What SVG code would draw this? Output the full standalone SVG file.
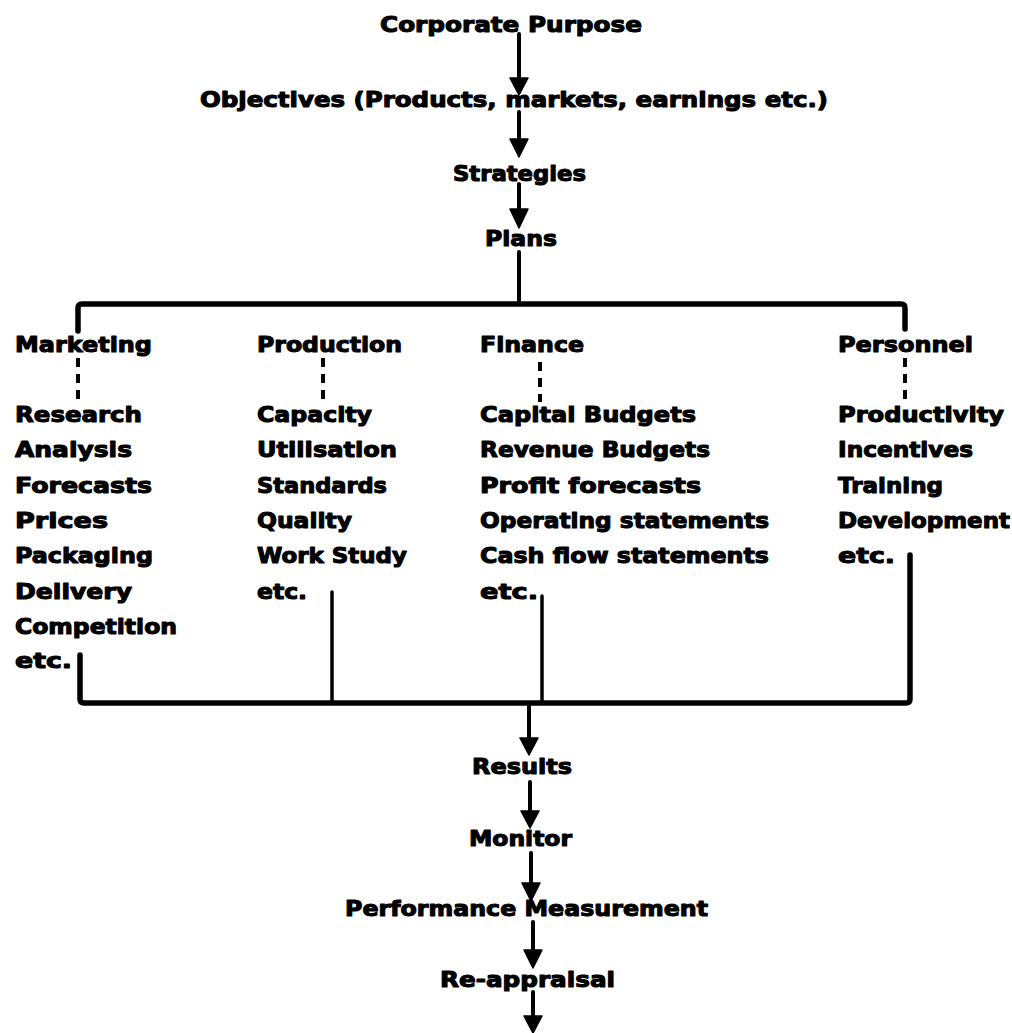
<svg xmlns="http://www.w3.org/2000/svg" width="1012" height="1033" viewBox="0 0 1012 1033">
<style>
  text { font-family: "DejaVu Sans", "Liberation Sans", sans-serif; font-weight: bold; font-size: 22px; fill: #000; stroke: #000; stroke-width: 1.1px; stroke-linejoin: round; }
  .ln { stroke: #000; fill: none; stroke-linecap: round; stroke-linejoin: round; }
  .arrow { stroke-width: 4; }
  .bar { stroke-width: 5.5; }
  .thin { stroke-width: 3.5; }
  .dash { stroke-width: 4; stroke-dasharray: 9 7; stroke-linecap: butt; }
  .head { fill: #000; stroke: #000; stroke-width: 1.5; stroke-linejoin: round; }
</style>
<rect width="1012" height="1033" fill="#fff"/>

<g id="connectors">
  <line class="ln arrow" x1="519" y1="34" x2="519" y2="80"/>
  <polygon class="head" points="510,78 528,78 519,95"/>
  <line class="ln arrow" x1="519" y1="112" x2="519" y2="141"/>
  <polygon class="head" points="510,139 528,139 519,157"/>
  <line class="ln arrow" x1="519" y1="184" x2="519" y2="211"/>
  <polygon class="head" points="510,209 528,209 519,228"/>
  <line class="ln arrow" x1="519" y1="252" x2="519" y2="304"/>
  <path class="ln bar" d="M78,331 V308 Q78,304 82,304 H901 Q905,304 905,308 V329"/>
  <line class="ln dash" x1="78" y1="358" x2="78" y2="402"/>
  <line class="ln dash" x1="323" y1="358" x2="323" y2="402"/>
  <line class="ln dash" x1="540" y1="362" x2="540" y2="402" stroke-dasharray="24 5"/>
  <line class="ln dash" x1="905" y1="358" x2="905" y2="402"/>
  <path class="ln bar" d="M80,655 V699 Q80,703 84,703 H906 Q910,703 910,699 V555"/>
  <line class="ln thin" x1="332" y1="592" x2="332" y2="703"/>
  <line class="ln thin" x1="542" y1="596" x2="542" y2="703"/>
  <line class="ln arrow" x1="529" y1="703" x2="529" y2="740"/>
  <polygon class="head" points="520,738 538,738 529,755"/>
  <line class="ln arrow" x1="530" y1="782" x2="530" y2="813"/>
  <polygon class="head" points="521,811 539,811 530,828"/>
  <line class="ln arrow" x1="531" y1="853" x2="531" y2="885"/>
  <polygon class="head" points="522,883 540,883 531,901"/>
  <line class="ln arrow" x1="533" y1="922" x2="533" y2="952"/>
  <polygon class="head" points="524,950 542,950 533,968"/>
  <line class="ln arrow" x1="533" y1="992" x2="533" y2="1018"/>
  <polygon class="head" points="524,1016 542,1016 533,1033"/>
</g>

<g id="node-corporate-purpose"><text x="380" y="32" textLength="262" lengthAdjust="spacingAndGlyphs">Corporate Purpose</text></g>
<g id="node-objectives"><text x="200" y="107" textLength="628" lengthAdjust="spacingAndGlyphs">Objectives (Products, markets, earnings etc.)</text></g>
<g id="node-strategies"><text x="453" y="181" textLength="133" lengthAdjust="spacingAndGlyphs">Strategies</text></g>
<g id="node-plans"><text x="485" y="246" textLength="72" lengthAdjust="spacingAndGlyphs">Plans</text></g>

<g id="node-marketing"><text x="15" y="352" textLength="137" lengthAdjust="spacingAndGlyphs">Marketing</text></g>
<g id="node-production"><text x="257" y="352" textLength="145" lengthAdjust="spacingAndGlyphs">Production</text></g>
<g id="node-finance"><text x="480" y="352" textLength="104" lengthAdjust="spacingAndGlyphs">Finance</text></g>
<g id="node-personnel"><text x="838" y="352" textLength="135" lengthAdjust="spacingAndGlyphs">Personnel</text></g>

<g id="node-marketing-items">
  <text x="15" y="422" textLength="127" lengthAdjust="spacingAndGlyphs">Research</text>
  <text x="15" y="457" textLength="117" lengthAdjust="spacingAndGlyphs">Analysis</text>
  <text x="15" y="493" textLength="137" lengthAdjust="spacingAndGlyphs">Forecasts</text>
  <text x="15" y="528" textLength="93" lengthAdjust="spacingAndGlyphs">Prices</text>
  <text x="15" y="563" textLength="138" lengthAdjust="spacingAndGlyphs">Packaging</text>
  <text x="15" y="599" textLength="117" lengthAdjust="spacingAndGlyphs">Delivery</text>
  <text x="15" y="634" textLength="162" lengthAdjust="spacingAndGlyphs">Competition</text>
  <text x="15" y="668" textLength="57" lengthAdjust="spacingAndGlyphs">etc.</text>
</g>
<g id="node-production-items">
  <text x="257" y="422" textLength="115" lengthAdjust="spacingAndGlyphs">Capacity</text>
  <text x="257" y="457" textLength="140" lengthAdjust="spacingAndGlyphs">Utilisation</text>
  <text x="257" y="493" textLength="130" lengthAdjust="spacingAndGlyphs">Standards</text>
  <text x="257" y="528" textLength="95" lengthAdjust="spacingAndGlyphs">Quality</text>
  <text x="257" y="563" textLength="150" lengthAdjust="spacingAndGlyphs">Work Study</text>
  <text x="257" y="599" textLength="50" lengthAdjust="spacingAndGlyphs">etc.</text>
</g>
<g id="node-finance-items">
  <text x="480" y="422" textLength="216" lengthAdjust="spacingAndGlyphs">Capital Budgets</text>
  <text x="480" y="457" textLength="230" lengthAdjust="spacingAndGlyphs">Revenue Budgets</text>
  <text x="480" y="493" textLength="221" lengthAdjust="spacingAndGlyphs">Profit forecasts</text>
  <text x="480" y="528" textLength="289" lengthAdjust="spacingAndGlyphs">Operating statements</text>
  <text x="480" y="563" textLength="289" lengthAdjust="spacingAndGlyphs">Cash flow statements</text>
  <text x="480" y="599" textLength="58" lengthAdjust="spacingAndGlyphs">etc.</text>
</g>
<g id="node-personnel-items">
  <text x="838" y="422" textLength="166" lengthAdjust="spacingAndGlyphs">Productivity</text>
  <text x="838" y="457" textLength="135" lengthAdjust="spacingAndGlyphs">Incentives</text>
  <text x="838" y="493" textLength="105" lengthAdjust="spacingAndGlyphs">Training</text>
  <text x="838" y="528" textLength="172" lengthAdjust="spacingAndGlyphs">Development</text>
  <text x="838" y="563" textLength="57" lengthAdjust="spacingAndGlyphs">etc.</text>
</g>

<g id="node-results"><text x="472" y="774" textLength="100" lengthAdjust="spacingAndGlyphs">Results</text></g>
<g id="node-monitor"><text x="469" y="846" textLength="103" lengthAdjust="spacingAndGlyphs">Monitor</text></g>
<g id="node-performance-measurement"><text x="345" y="916" textLength="363" lengthAdjust="spacingAndGlyphs">Performance Measurement</text></g>
<g id="node-re-appraisal"><text x="440" y="987" textLength="175" lengthAdjust="spacingAndGlyphs">Re-appraisal</text></g>
</svg>
